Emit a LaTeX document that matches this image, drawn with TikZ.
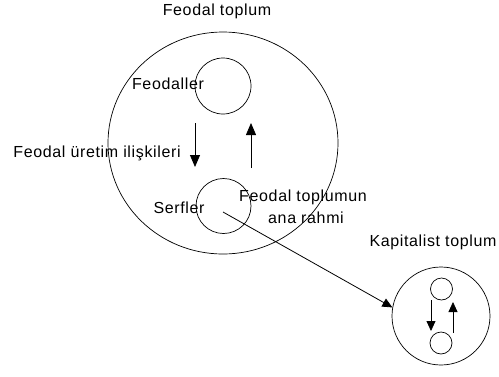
\documentclass[tikz,border=0pt]{standalone}
\usepackage{fontspec}
\setmainfont[LetterSpace=4]{Liberation Sans}
\usetikzlibrary{arrows.meta}
\begin{document}
\begin{tikzpicture}[x=1pt,y=-1pt,
  lbl/.style={inner sep=0pt,font=\fontsize{16}{18}\selectfont},
  ring/.style={draw,line width=0.7pt},
  arr/.style={line width=0.8pt,-{Triangle[length=12pt,width=10pt]}},
  sarr/.style={line width=0.8pt,-{Triangle[length=10pt,width=9pt]}}]
\useasboundingbox (0,0) rectangle (499,376);
% big society
\draw[ring] (223,143) ellipse [x radius=115,y radius=111];
\node[ring,circle,minimum size=56pt,inner sep=0pt] (feo) at (223,86) {};
\node[ring,circle,minimum size=55pt,inner sep=0pt] (serf) at (223.5,206) {};
\coordinate (d1) at (195,123); \coordinate (d2) at (195,167);
\coordinate (u1) at (251,168); \coordinate (u2) at (251,123);
\draw[arr] (d1) -- (d2);
\draw[arr] (u1) -- (u2);
% capitalist society
\node[ring,circle,minimum size=98pt,inner sep=0pt] (kap) at (441,316) {};
\node[ring,circle,minimum size=22pt,inner sep=0pt] (k1) at (441.5,289) {};
\node[ring,circle,minimum size=22pt,inner sep=0pt] (k2) at (441,343) {};
\coordinate (kd1) at (431,300); \coordinate (kd2) at (431,331);
\coordinate (ku1) at (453,333); \coordinate (ku2) at (453,302);
\draw[sarr] (kd1) -- (kd2);
\draw[sarr] (ku1) -- (ku2);
% transition
\coordinate (s) at (223,212);
\draw[sarr] (s) -- (kap.170);
% labels
\node[lbl] (t1) at (217,11) {Feodal toplum};
\node[lbl] (t2) at (168,84) {Feodaller};
\node[lbl] (t3) at (97,153) {Feodal üretim ilişkileri};
\node[lbl] (t4) at (179,208) {Serfler};
\node[lbl] (t5) at (303,197) {Feodal toplumun};
\node[lbl] (t6) at (306,218) {ana rahmi};
\node[lbl] (t7) at (433,242) {Kapitalist toplum};
\end{tikzpicture}
\end{document}
